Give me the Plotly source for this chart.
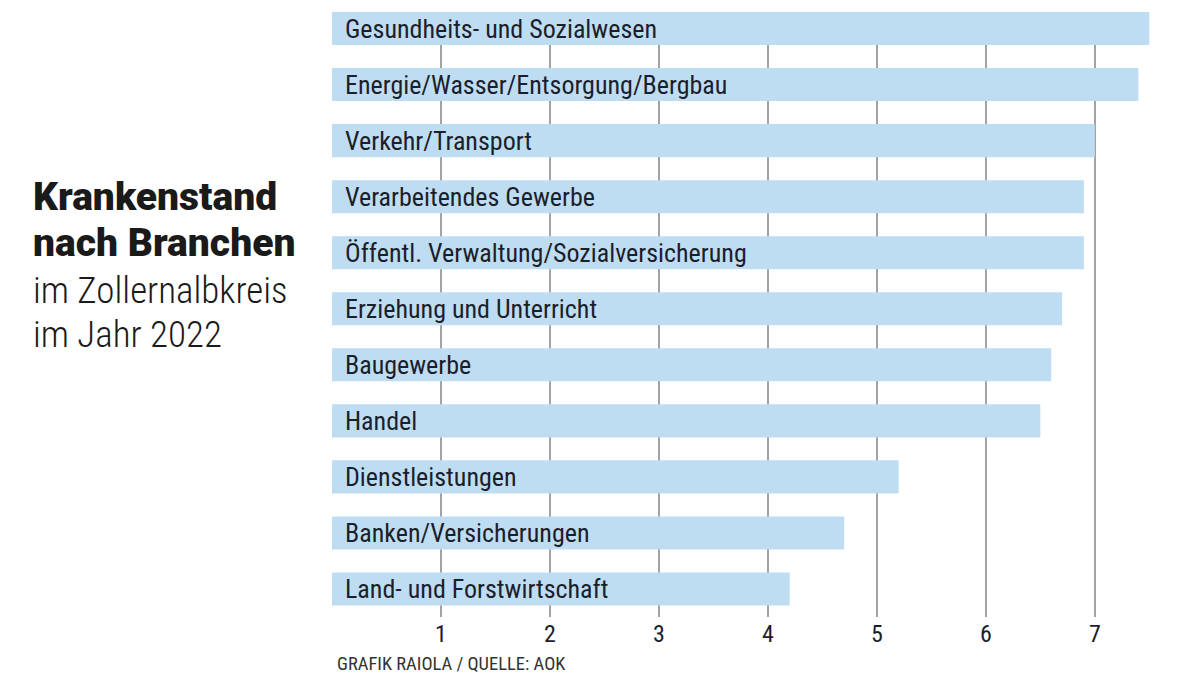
import plotly.graph_objects as go

categories = [
    "Gesundheits- und Sozialwesen",
    "Energie/Wasser/Entsorgung/Bergbau",
    "Verkehr/Transport",
    "Verarbeitendes Gewerbe",
    "Öffentl. Verwaltung/Sozialversicherung",
    "Erziehung und Unterricht",
    "Baugewerbe",
    "Handel",
    "Dienstleistungen",
    "Banken/Versicherungen",
    "Land- und Forstwirtschaft",
]
values = [7.5, 7.4, 7.0, 6.9, 6.9, 6.7, 6.6, 6.5, 5.2, 4.7, 4.2]
tick_values = [1, 2, 3, 4, 5, 6, 7]
tick_labels = ["1", "2", "3", "4", "5", "6", "7"]

W, H = 1200, 675
ML, MR, MT, MB = 332, 18, 12, 58
PW, PH = W - ML - MR, H - MT - MB

def px_x(x):
    return (x - ML) / PW

def px_y(y):
    return 1 - (y - MT) / PH

FONT = "Roboto Condensed, Liberation Sans Narrow, DejaVu Sans Condensed, Roboto, sans-serif"
positions = list(range(len(categories)))

fig = go.Figure()
fig.add_trace(go.Bar(
    x=values, y=positions, orientation="h",
    marker=dict(color="#bfddf2", line=dict(width=0)),
    width=0.59, hoverinfo="skip",
))

for p, c in zip(positions, categories):
    fig.add_annotation(x=0, y=p, text=c, xref="x", yref="y", xanchor="left",
                       yanchor="middle", xshift=11, showarrow=False,
                       font=dict(family=FONT, size=26, color="#1b1e2b"))

title_lines = [("Krankenstand", 197, "Roboto, sans-serif", 39, 900),
               ("nach Branchen", 243, "Roboto, sans-serif", 39, 900),
               ("im Zollernalbkreis", 290, FONT, 37, 300),
               ("im Jahr 2022", 334, FONT, 37, 300)]
for t, ypx, fam, sz, wt in title_lines:
    fig.add_annotation(x=px_x(31), y=px_y(ypx), xref="paper", yref="paper",
                       xanchor="left", yanchor="middle", text=t, showarrow=False,
                       font=dict(family=fam, size=sz, color="#1a1a1a", weight=wt))

fig.add_annotation(x=px_x(335), y=px_y(664), xref="paper", yref="paper",
                   xanchor="left", yanchor="middle", text="GRAFIK RAIOLA / QUELLE: AOK",
                   showarrow=False, font=dict(family=FONT, size=18.5, color="#333333"))

fig.update_layout(
    width=W, height=H,
    margin=dict(l=ML, r=MR, t=MT, b=MB),
    paper_bgcolor="white", plot_bgcolor="white",
    showlegend=False,
    xaxis=dict(range=[0, 7.8], tickvals=tick_values, ticktext=tick_labels,
               showgrid=True, gridcolor="#a3a3a3", gridwidth=1.5,
               zeroline=False, showline=False, ticklen=0,
               tickfont=dict(family=FONT, size=24, color="#1b1e2b")),
    yaxis=dict(range=[10.5, -0.295], showticklabels=False, showgrid=False,
               zeroline=False, showline=False),
)

fig.write_html("out.html", config={"displayModeBar": False},
               post_script="document.body.style.margin='0';")
